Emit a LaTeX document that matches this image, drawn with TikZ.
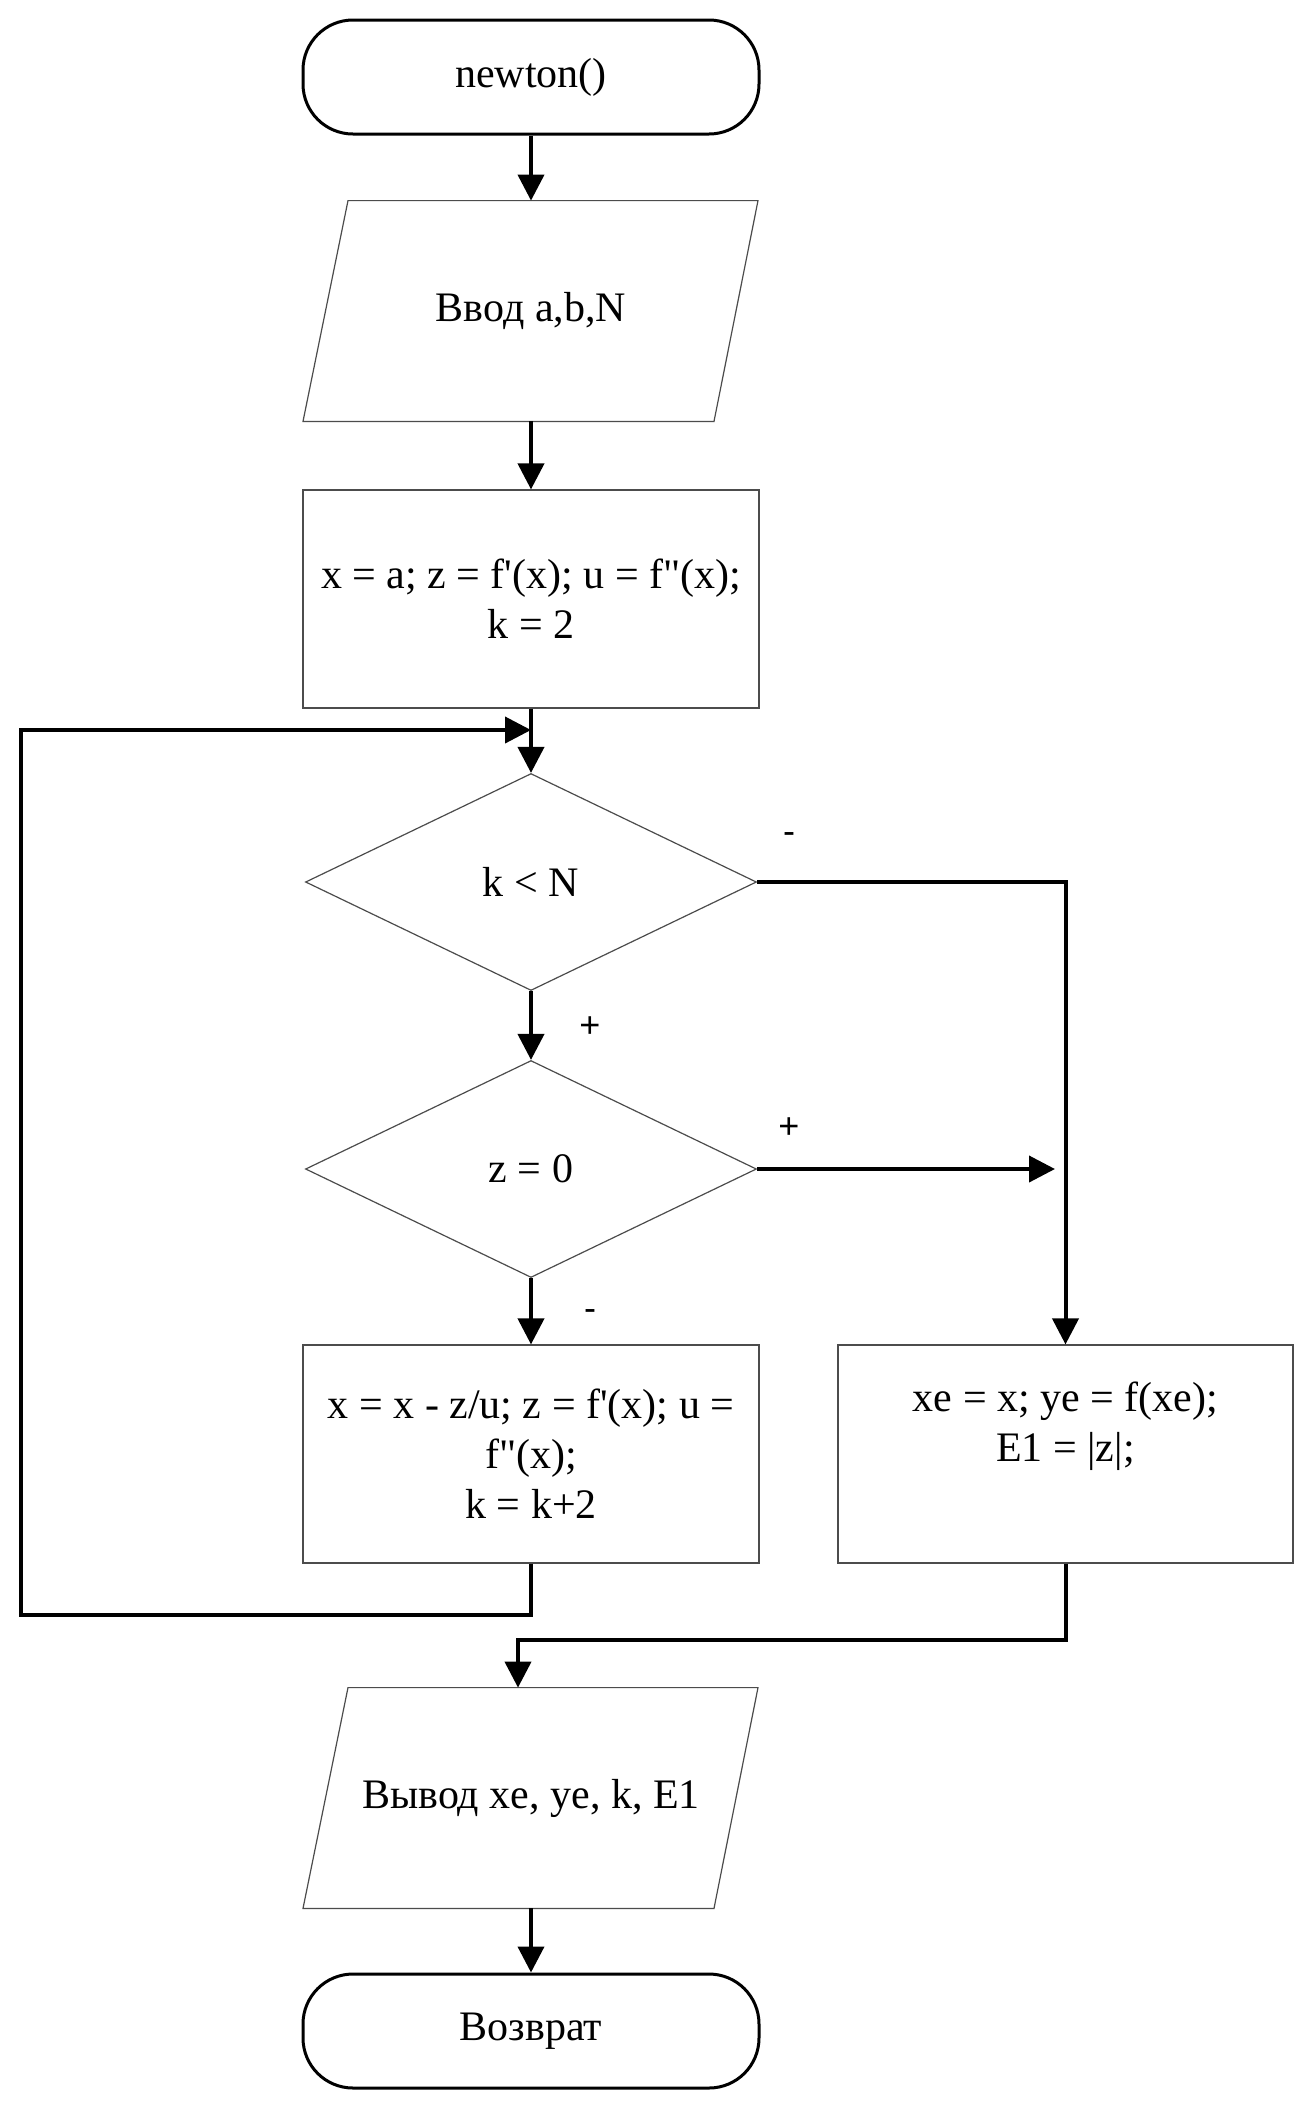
\documentclass[tikz,border=0pt]{standalone}
\usepackage{fontspec}
\setmainfont{Liberation Serif}
\newfontfamily\lblfont{Liberation Sans}
\usetikzlibrary{shapes.geometric,arrows.meta,calc}
\tikzset{
  txt/.style={font=\fontsize{21pt}{25pt}\selectfont, align=center, inner sep=0pt},
  term/.style={txt, draw=black, line width=1.5pt, rectangle, rounded corners=25pt,
    minimum width=228pt, minimum height=57pt},
  procbox/.style={txt, draw=black!70, line width=0.6pt, rectangle,
    minimum width=228pt, minimum height=109pt},
  decision/.style={txt, draw=black!70, line width=0.6pt, diamond,
    minimum width=225.5pt, minimum height=108.5pt},
  iobox/.style={txt, rectangle, minimum width=205pt, minimum height=110pt},
  shp/.style={draw=black!70, line width=0.6pt},
  conn/.style={line width=2pt, draw=black},
  arr/.style={conn, -{Triangle[length=13pt,width=13pt]}},
  lbl/.style={font=\lblfont\fontsize{18pt}{20pt}\selectfont, inner sep=0pt}
}
\begin{document}
\begin{tikzpicture}[x=0.5pt,y=-0.5pt]
\useasboundingbox (0,0) rectangle (1308,2106);
\fill[white] (0,0) rectangle (1308,2106);

% nodes
\node[term] (t1) at (531,77) {newton()};
\node[iobox] (p1) at (531,311) {Ввод a,b,N};
\draw[shp] ($(p1.north)+(-183,0)$) -- ($(p1.north)+(227,0)$) -- ($(p1.south)+(183,0)$) -- ($(p1.south)+(-228,0)$) -- cycle;
\node[procbox] (r1) at (531,599) {x = a; z = f\textquotesingle(x); u = f\textquotedbl(x);\\ k = 2};
\node[decision] (d1) at (531,882) {k < N};
\node[decision] (d2) at (531,1169) {z = 0};
\node[procbox] (r2) at (531,1454) {x = x - z/u; z = f\textquotesingle(x); u =\\ f\textquotedbl(x);\\ k = k+2};
\node[procbox, minimum width=227.5pt] (r3) at (1065.5,1454) {xe = x; ye = f(xe);\\ E1 = |z|;\\ \strut};
\node[iobox] (p2) at (531,1798) {Вывод xe, ye, k, E1};
\draw[shp] ($(p2.north)+(-183,0)$) -- ($(p2.north)+(227,0)$) -- ($(p2.south)+(183,0)$) -- ($(p2.south)+(-228,0)$) -- cycle;
\node[term] (t2) at (531,2031) {Возврат};

% labels
\node[lbl] (l1) at (789,838) {-};
\node[lbl] (l2) at (590,1027) {+};
\node[lbl] (l3) at (789,1128) {+};
\node[lbl] (l4) at (590,1315) {-};

% coordinates
\coordinate (j1) at (531,730);
\coordinate (lb) at (21,1615);
\coordinate (ra) at (1055,1169);
\coordinate (j2) at (518,1640);

% connectors
\draw[arr] (t1.south) -- (p1.north);
\draw[arr] (p1.south) -- (r1.north);
\draw[arr] (r1.south) -- (d1.north);
\draw[arr] (r2.south) |- (lb) |- (j1);
\draw[arr] (d1.south) -- (d2.north);
\draw[arr] (d1.east) -| (r3.north);
\draw[arr] (d2.east) -- (ra);
\draw[arr] (d2.south) -- (r2.north);
\draw[arr] (r3.south) |- (j2) -- (j2 |- p2.north);
\draw[arr] (p2.south) -- (t2.north);
\end{tikzpicture}
\end{document}
